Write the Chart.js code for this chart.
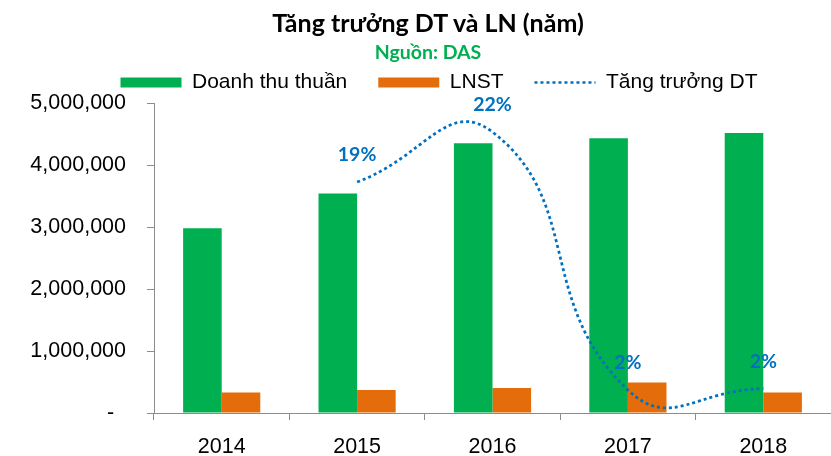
<!DOCTYPE html>
<html>
<head>
<meta charset="utf-8">
<script src="https://cdn.jsdelivr.net/npm/chart.js@4.4.1/dist/chart.umd.min.js"></script>
<style>
  html, body { margin: 0; padding: 0; background: #ffffff; overflow: hidden; }
  #wrap { position: relative; width: 831px; height: 456px; }
  #title { position: absolute; left: 28px; width: 800px; top: 10px; text-align: center;
           font: bold 25px/25px Lato, "Noto Sans", sans-serif; color: #000; white-space: nowrap; }
  #subtitle { position: absolute; left: 28px; width: 800px; top: 42px; text-align: center;
              font: bold 19.5px/19.5px Lato, "Noto Sans", sans-serif; color: #00B050; white-space: nowrap; }
  canvas { position: absolute; left: 0; top: 0; }
</style>
</head>
<body>
<div id="wrap">
  <canvas id="c" width="831" height="456"></canvas>
  <div id="title">Tăng trưởng DT và LN (năm)</div>
  <div id="subtitle">Nguồn: DAS</div>
</div>
<script>
// ---- data ----
const years = ['2014', '2015', '2016', '2017', '2018'];
const revenue = [2980000, 3540000, 4350000, 4430000, 4515000];   // Doanh thu thuần
const profit = [330000, 372000, 405000, 491000, 329000];         // LNST
const growth = [null, 18.5, 22.4, 2.3, 2.4];                     // Tăng trưởng DT (%)
const seriesNames = ['Doanh thu thuần', 'LNST', 'Tăng trưởng DT'];
const yTicks = [0, 1000000, 2000000, 3000000, 4000000, 5000000];

const GREEN = '#00B050', ORANGE = '#E46C0A', BLUE = '#0070C0', AXIS = '#8C8C8C';

Chart.defaults.font.family = '"Liberation Sans", Arial, sans-serif';
Chart.defaults.color = '#000000';

const growthLabels = {
  id: 'growthLabels',
  afterLayout(chart) {
    // the reference legend row is centred a little right of the canvas centre
    const dx = 23.5;
    chart.legend.left += dx;
    chart.legend.right += dx;
  },
  afterDatasetsDraw(chart) {
    const meta = chart.getDatasetMeta(2);
    const ctx = chart.ctx;
    ctx.save();
    ctx.font = 'bold 19.5px Lato, "Noto Sans", sans-serif';
    ctx.fillStyle = BLUE;
    ctx.textAlign = 'center';
    ctx.textBaseline = 'middle';
    meta.data.forEach((pt, i) => {
      const v = growth[i];
      if (v === null || v === undefined) return;
      ctx.fillText(Math.round(v) + '%', pt.x, pt.y - 27);
    });
    ctx.restore();
  }
};

new Chart(document.getElementById('c'), {
  type: 'bar',
  data: {
    labels: years,
    datasets: [
      { label: seriesNames[0], data: revenue, backgroundColor: GREEN, borderWidth: 0,
        categoryPercentage: 0.57, barPercentage: 1.0, yAxisID: 'y', order: 2 },
      { label: seriesNames[1], data: profit, backgroundColor: ORANGE, borderWidth: 0,
        categoryPercentage: 0.57, barPercentage: 1.0, yAxisID: 'y', order: 2 },
      { type: 'line', label: seriesNames[2], data: growth, yAxisID: 'y2', order: 0,
        borderColor: BLUE, backgroundColor: 'rgba(0,0,0,0)', borderWidth: 2.75,
        borderDash: [3, 3], borderCapStyle: 'butt', tension: 0.5, capBezierPoints: false,
        pointRadius: 0, pointHoverRadius: 0, spanGaps: false, fill: false }
    ]
  },
  options: {
    responsive: false,
    animation: false,
    devicePixelRatio: 1,
    layout: { padding: { left: 0, right: 0, top: 41, bottom: 0 } },
    plugins: {
      title: { display: false },
      tooltip: { enabled: false },
      legend: {
        display: true,
        position: 'top',
        align: 'center',
        labels: {
          font: { size: 21 },
          color: '#000000',
          padding: 31,
          usePointStyle: true,
          pointStyleWidth: 61,
          boxHeight: 10,
          generateLabels(chart) {
            return chart.data.datasets.map((ds, i) => {
              const isLine = ds.type === 'line';
              return {
                text: ds.label,
                datasetIndex: i,
                fillStyle: isLine ? 'rgba(0,0,0,0)' : ds.backgroundColor,
                strokeStyle: isLine ? BLUE : ds.backgroundColor,
                lineWidth: isLine ? 2.5 : 0,
                lineDash: isLine ? [3, 3] : [],
                lineCap: 'butt',
                pointStyle: isLine ? 'line' : 'rect',
                hidden: false,
                fontColor: '#000000'
              };
            });
          }
        }
      }
    },
    scales: {
      x: {
        offset: true,
        grid: { display: true, offset: true, drawOnChartArea: false, drawTicks: true,
                tickLength: 7, color: AXIS, lineWidth: 1 },
        border: { display: true, color: AXIS, width: 1 },
        ticks: { font: { size: 21.5 }, color: '#000000', padding: 14, maxRotation: 0 },
        afterFit(scale) { scale.height = 43; }
      },
      y: {
        position: 'left',
        min: 0, max: 5000000,
        afterBuildTicks(scale) { scale.ticks = yTicks.map(v => ({ value: v })); },
        grid: { display: true, drawOnChartArea: false, drawTicks: true, tickLength: 7,
                color: AXIS, lineWidth: 1 },
        border: { display: true, color: AXIS, width: 1 },
        ticks: {
          font: { size: 21.5 }, color: '#000000', padding: 21,
          callback(v) { return v === 0 ? '-  ' : Number(v).toLocaleString('en-US'); }
        },
        afterFit(scale) { scale.width = 154; }
      },
      y2: {
        display: false,
        position: 'right',
        min: 0.507, max: 24.66
      }
    }
  },
  plugins: [growthLabels]
});
</script>
</body>
</html>
